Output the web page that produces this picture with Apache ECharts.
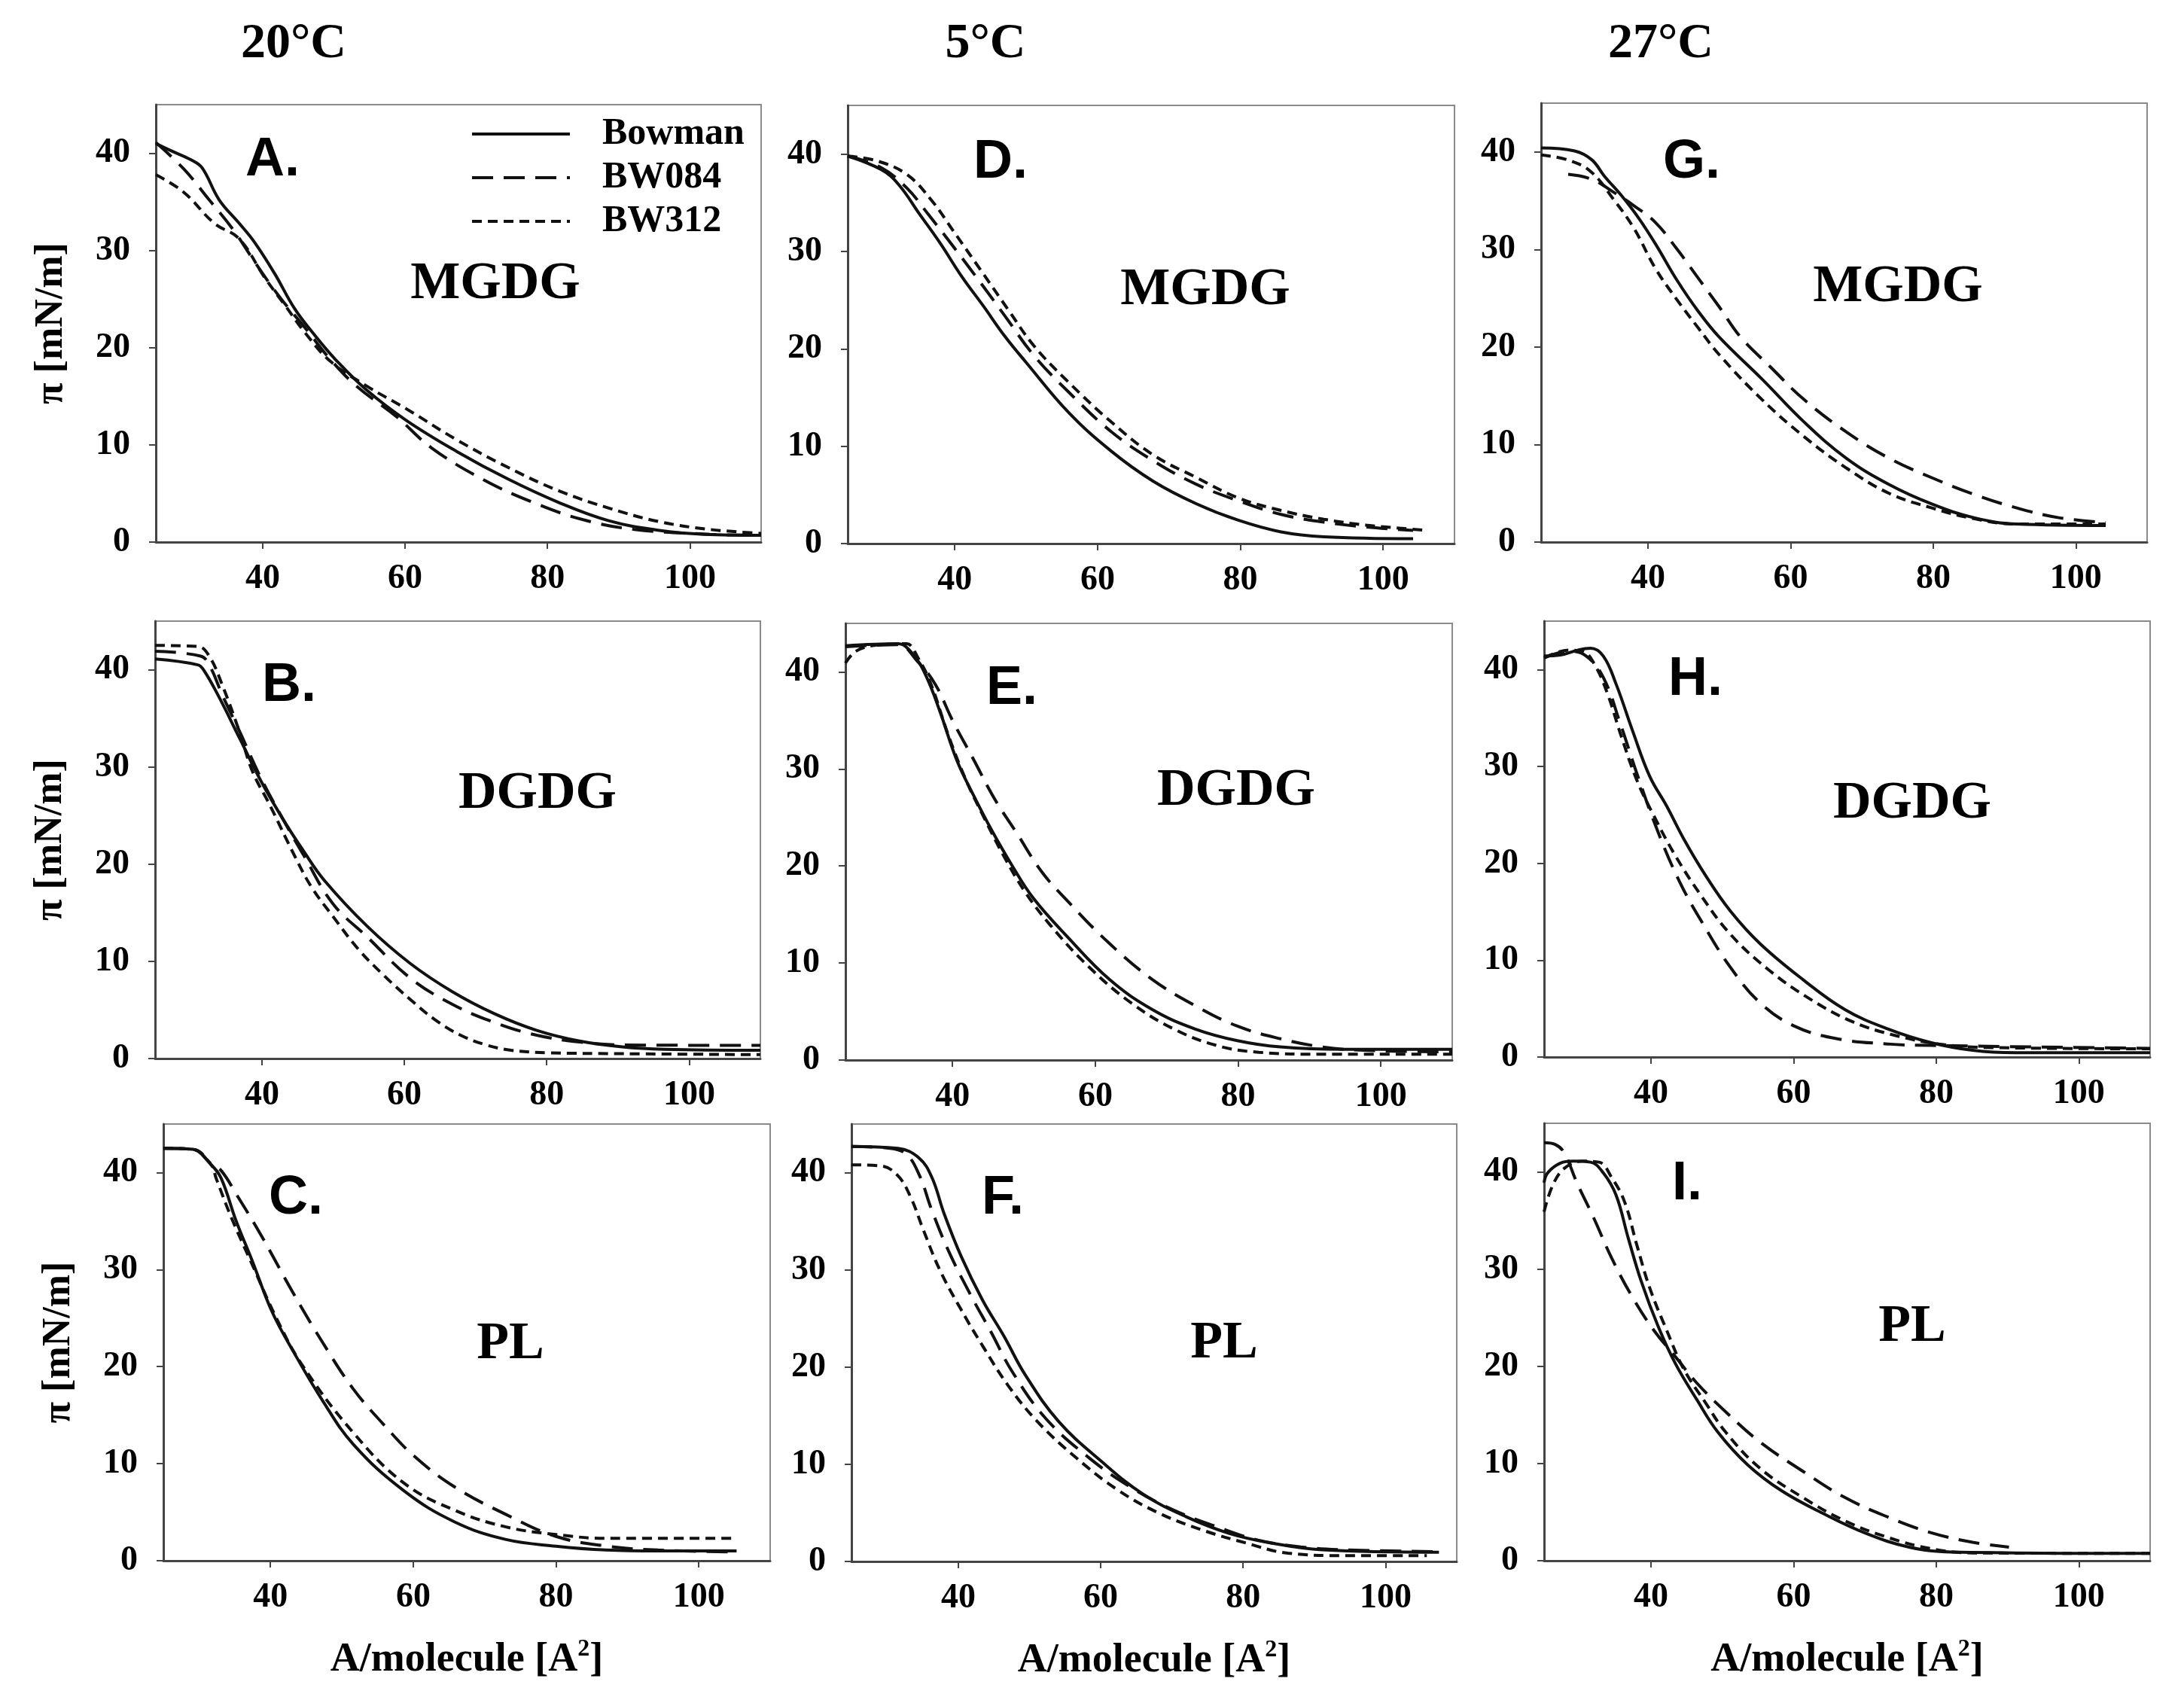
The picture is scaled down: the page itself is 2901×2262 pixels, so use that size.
<!DOCTYPE html>
<html>
<head>
<meta charset="utf-8">
<script src="https://cdn.jsdelivr.net/npm/echarts@6/dist/echarts.min.js"></script>
<style>
  html, body { margin: 0; padding: 0; background: #fff; }
  #chart { width: 2901px; height: 2262px; }
</style>
</head>
<body>
<div id="chart"></div>
<script>
var seriesNames = ['Bowman', 'BW084', 'BW312'];
var temps = ['20°C', '5°C', '27°C'];
var panelLetters = ['A.', 'B.', 'C.', 'D.', 'E.', 'F.', 'G.', 'H.', 'I.'];
var lipids = ['MGDG', 'DGDG', 'PL', 'MGDG', 'DGDG', 'PL', 'MGDG', 'DGDG', 'PL'];
var xTicks = [40, 60, 80, 100];
var yTicks = [0, 10, 20, 30, 40];

// 20°C
var aBowman = [[25,41.0],[27,40.3],[30,39.3],[31.5,38.5],[33.9,35.2],[36.7,32.8],[38.9,30.8],[41.7,27.6],[44.5,24.0],[47.4,21.2],[50.2,18.8],[54.5,15.7],[60.2,12.5],[67.3,9.3],[74.4,6.5],[81.5,4.1],[88.6,2.2],[95.7,1.2],[102,0.8],[110,0.7]];
var aBW084 = [[25,41.1],[28.9,38.4],[32.5,35.2],[36,32.0],[38.9,28.8],[42.4,25.2],[46,22.0],[49.5,18.8],[53.1,16.1],[58.8,12.9],[63.7,9.7],[70.8,6.5],[77.9,4.1],[85,2.3],[92.2,1.3],[102.8,0.8],[110,0.7]];
var aBW312 = [[25,37.8],[28.9,36.0],[33.2,32.8],[36.7,31.2],[40.3,27.2],[43.1,24.4],[46,21.5],[49.5,18.6],[54.5,16.1],[60.2,13.7],[67.3,10.5],[74.4,7.7],[81.5,5.3],[88.6,3.5],[95.7,2.1],[102.8,1.3],[110,0.9]];

var bBowman = [[25,41.1],[31,40.5],[31.8,40.0],[33.9,37.3],[36.9,32.9],[39.9,28.5],[42.9,24.7],[45.8,21.4],[48.8,18.3],[54.8,13.6],[60.8,9.8],[66.7,6.9],[72.7,4.6],[78.6,2.9],[84.6,1.8],[90.6,1.2],[96.5,0.95],[110,0.85]];
var bBW084 = [[25,41.9],[31.4,41.4],[32.6,40.5],[34.5,37.3],[36.9,33.6],[39.9,28.8],[42.9,24.7],[45.8,21.0],[50,15.9],[54.8,12.5],[60.8,8.3],[66.7,5.6],[72.7,3.7],[78.6,2.4],[84.6,1.7],[90.6,1.4],[110,1.35]];
var bBW312 = [[25,42.5],[31,42.4],[32.6,41.4],[34.5,38.3],[36.9,33.5],[38.7,29.5],[41.1,26.1],[44.7,20.7],[47,17.6],[50,14.6],[53.6,11.2],[57.2,8.5],[60.8,6.1],[64.3,4.0],[67.9,2.4],[71.5,1.4],[75,0.85],[80,0.6],[90.6,0.5],[110,0.4]];

var cBowman = [[25,42.5],[29.1,42.4],[31.7,40.8],[33.1,39.4],[35.2,35.0],[37.4,31.0],[40.2,25.7],[43.1,21.7],[47.3,16.5],[51.6,12.0],[58.7,7.2],[65.8,4.0],[72.9,2.2],[80,1.5],[87,1.1],[94.3,1.0],[105.3,1.0]];
var cBW084 = [[25,42.5],[29.1,42.4],[31.7,40.9],[33.1,40.2],[35.2,37.8],[38.8,33.4],[43.1,27.7],[47.3,22.5],[51.6,17.7],[55.9,14.0],[60.1,10.8],[65.8,7.6],[72.9,4.8],[80,2.5],[87.2,1.5],[94.3,1.1],[105.3,0.9]];
var cBW312 = [[25,42.5],[29.1,42.4],[31.7,40.8],[32.4,39.4],[34.5,35.4],[37.4,30.6],[40.9,24.9],[44.5,20.1],[51.6,13.2],[58.7,8.0],[65.8,5.2],[72.9,3.5],[80,2.7],[87.2,2.3],[105.3,2.3]];

// 5°C
var dBowman = [[25,39.8],[29.7,38.4],[32.1,36.9],[35.1,33.8],[38,30.8],[41,27.4],[44,24.4],[47,21.3],[50,18.6],[55.9,13.5],[61.9,9.5],[67.8,6.4],[73.8,4.1],[79.7,2.4],[85.7,1.2],[91.7,0.7],[104.2,0.5]];
var dBW084 = [[25,39.8],[29.7,38.6],[33.3,36.5],[36.3,33.8],[39.8,30.5],[44,26.4],[47,23.4],[51.1,19.3],[55.9,15.6],[61.9,11.5],[67.8,8.5],[73.8,6.1],[79.7,4.4],[85.7,3.0],[91.7,2.2],[97.6,1.7],[104.2,1.35]];
var dBW312 = [[25,39.8],[29.1,39.3],[33.3,37.9],[36.8,35.2],[39.8,32.1],[44,27.7],[47.5,24.0],[51.1,20.3],[55.9,16.6],[61.9,12.5],[67.8,9.1],[73.8,6.8],[79.7,4.7],[85.7,3.4],[91.7,2.5],[97.6,1.9],[106.3,1.35]];

var eBowman = [[25,42.7],[32.3,42.9],[34.6,41.7],[36.4,39.4],[38.2,36.0],[40.6,30.9],[43,27.2],[45.4,23.8],[48.3,20.1],[51.3,16.7],[56.1,12.7],[62,8.3],[68,5.2],[74,3.2],[79.9,2.0],[85.9,1.35],[94.8,1.1],[110,1.1]];
var eBW084 = [[25,42.6],[32.3,42.8],[35.2,41.0],[37.6,38.7],[40,35.0],[43,30.9],[45.9,26.9],[48.9,23.5],[52.5,19.4],[56.1,16.4],[62,12.0],[68,8.3],[74,5.6],[79.9,3.5],[85.9,2.2],[91.8,1.35],[97.8,1.0],[110,0.85]];
var eBW312 = [[25,40.9],[26.4,42.1],[28.8,42.7],[33.5,42.9],[35.2,41.4],[37,38.7],[39.4,33.5],[41.8,29.0],[44.2,25.3],[47.2,21.0],[50.1,17.4],[53.7,13.9],[59.1,9.6],[65,5.9],[71,3.2],[77,1.5],[82.9,0.8],[91.8,0.6],[110,0.6]];

var fBowman = [[25,42.7],[31.5,42.5],[34.5,41.5],[36.3,39.5],[38,35.8],[40.4,31.4],[43.4,26.9],[46.4,23.2],[49.4,19.2],[54.1,14.4],[60.1,10.3],[66,6.9],[72,4.6],[78,2.9],[83.9,1.9],[91.1,1.2],[107.5,0.95]];
var fBW084 = [[25,42.7],[30.4,42.5],[32.7,41.9],[34.5,39.8],[36.3,36.1],[38.6,32.0],[41.6,27.6],[44.6,23.6],[47.6,19.5],[52.3,14.7],[58.3,10.7],[64.3,7.6],[70.2,5.3],[76.2,3.6],[82.1,2.2],[88.1,1.5],[94.1,1.2],[107.5,1.0]];
var fBW312 = [[25,40.8],[29.1,40.7],[31.5,39.7],[33.3,37.5],[35.1,34.1],[37.4,30.0],[40.4,25.9],[43.4,22.2],[47,18.1],[51.1,14.4],[56.5,10.7],[62.5,7.3],[68.4,4.9],[74.4,3.2],[80.4,1.9],[86.3,0.85],[94.1,0.6],[105.8,0.6]];

// 27°C
var gBowman = [[25,40.4],[29.7,40.1],[32.1,39.2],[33.9,37.5],[36.3,35.5],[38.7,33.2],[41.1,30.5],[44.1,26.8],[47,23.7],[50,21.0],[56,16.7],[61.9,12.3],[67.8,8.6],[73.8,5.9],[79.8,3.9],[85.7,2.5],[91.7,1.85],[104.2,1.7]];
var gBW084 = [[28.8,37.7],[32.1,37.2],[35.1,35.9],[38,34.5],[41,32.8],[44,30.1],[47,27.1],[50,24.1],[53,21.0],[57.1,18.0],[61.9,14.6],[67.8,11.3],[73.8,8.6],[79.8,6.6],[85.7,4.9],[91.7,3.5],[97.6,2.5],[104.2,2.0]];
var gBW312 = [[25,39.7],[29.1,39.1],[32.1,37.9],[35.1,35.2],[38,32.2],[41,28.1],[44,24.9],[47,22.0],[50,19.2],[56,14.6],[61.9,10.8],[67.8,7.6],[73.8,5.0],[79.8,3.5],[85.7,2.4],[91.7,1.85],[104.2,1.85]];

var hBowman = [[25,41.4],[27.3,41.5],[29.7,42.0],[31.5,42.2],[33.3,41.4],[35.1,38.5],[37.4,33.7],[39.8,29.0],[42.2,25.9],[44.6,22.5],[47.6,18.8],[51.1,15.1],[55.3,11.7],[61.3,8.0],[67.2,4.9],[73.2,2.9],[79.2,1.5],[85.1,0.7],[91.1,0.45],[110,0.45]];
var hBW084 = [[25,41.2],[28.5,41.9],[30.9,41.4],[33.3,39.2],[35.7,34.4],[38,29.3],[41,23.2],[44,18.1],[47,14.1],[51.1,9.3],[55.3,5.6],[60.1,3.2],[66,1.9],[73.2,1.35],[79.2,1.2],[110,0.9]];
var hBW312 = [[25,41.2],[28.5,42.0],[30.4,41.9],[32.1,40.5],[33.9,37.5],[35.7,33.4],[38,28.6],[40.4,24.9],[43.4,20.8],[46.9,16.8],[51.1,12.7],[56.5,9.0],[62.5,5.9],[68.4,3.6],[74.4,2.2],[80.4,1.35],[86.3,1.0],[110,0.85]];

var iBowman = [[25,38.9],[25.5,39.9],[27.3,40.9],[29.1,41.1],[31.5,41.0],[33.3,39.9],[35.1,37.6],[36.8,33.2],[38.6,28.8],[41,24.1],[43.4,20.3],[46.4,16.6],[49.4,13.2],[53.5,9.9],[58.3,7.2],[64.3,4.8],[70.2,2.8],[76.2,1.4],[82.1,0.9],[110,0.75]];
var iBW084 = [[25,43.0],[26.6,42.8],[27.8,42.0],[29.6,38.9],[32,35.2],[34.5,31.1],[37.4,27.1],[40.4,23.7],[43.4,21.0],[46.4,18.3],[50.5,15.3],[55.3,12.2],[61.3,9.2],[67.2,6.5],[73.2,4.5],[79.2,2.9],[85.1,1.9],[90.2,1.4]];
var iBW312 = [[25,35.9],[26.2,38.6],[27.9,40.4],[30.4,41.1],[32.7,41.0],[34.5,39.4],[36.3,36.9],[38,32.5],[39.8,28.1],[42.2,23.7],[44.6,19.7],[47.6,16.3],[50.5,13.2],[55.3,9.5],[61.3,6.5],[67.2,4.1],[73.2,2.4],[79.2,1.25],[85.1,0.8],[110,0.75]];

var panels = [
  [aBowman, aBW084, aBW312], [bBowman, bBW084, bBW312], [cBowman, cBW084, cBW312],
  [dBowman, dBW084, dBW312], [eBowman, eBW084, eBW312], [fBowman, fBW084, fBW312],
  [gBowman, gBW084, gBW312], [hBowman, hBW084, hBW312], [iBowman, iBW084, iBW312]
];

// plot boxes in pixels: left, top, width, height
var boxes = [
  [207, 139, 804, 581], [206, 825, 804, 581], [217, 1493, 806, 580],
  [1126, 140, 806, 582], [1123, 828, 806, 580], [1131, 1493, 804, 581],
  [2047, 137, 805, 583], [2051, 825, 805, 579], [2051, 1492, 805, 581]
];
var letterPos = [[326,213],[348,911],[357,1592],[1293,216],[1310,915],[1304,1592],[2209,216],[2216,903],[2221,1573]];
var lipidPos = [[658,378],[714,1055],[678,1786],[1601,386],[1642,1051],[1626,1785],[2521,382],[2540,1068],[2540,1763]];
var tempPos = [[390,59],[1309,59],[2206,59]];

var serif = 'Liberation Serif';
var dashes = ['solid', [28, 14], [13, 8]];

var grids = [], xAxes = [], yAxes = [], series = [], graphics = [];

boxes.forEach(function (b, i) {
  grids.push({
    left: b[0], top: b[1], width: b[2], height: b[3],
    show: true, borderColor: '#8a8a8a', borderWidth: 2, containLabel: false
  });
  var bottomRow = (i % 3 === 2);
  var leftCol = (i < 3);
  xAxes.push({
    type: 'value', gridIndex: i, min: 25, max: 110,
    splitLine: { show: false },
    axisLine: { onZero: false, lineStyle: { color: '#444', width: 3 } },
    axisTick: { customValues: xTicks, length: 9, lineStyle: { color: '#444', width: 2 } },
    axisLabel: {
      customValues: xTicks, margin: 26, color: '#000',
      fontFamily: serif, fontWeight: 'bold', fontSize: 46
    },
    name: bottomRow ? 'A/molecule [A{sup|2}]' : '',
    nameLocation: 'middle', nameGap: 102,
    nameTextStyle: {
      color: '#000', fontFamily: serif, fontWeight: 'bold', fontSize: 54,
      rich: { sup: { fontFamily: serif, fontWeight: 'bold', fontSize: 32, verticalAlign: 'top', padding: [0, 0, 28, 0] } }
    }
  });
  yAxes.push({
    type: 'value', gridIndex: i, min: 0, max: 45,
    splitLine: { show: false },
    axisLine: { show: true, onZero: false, lineStyle: { color: '#444', width: 3 } },
    axisTick: { show: true, customValues: yTicks, length: 9, lineStyle: { color: '#444', width: 2 } },
    axisLabel: {
      customValues: yTicks, margin: 34, color: '#000',
      fontFamily: serif, fontWeight: 'bold', fontSize: 46
    },
    name: leftCol ? 'π [mN/m]' : '',
    nameLocation: 'middle', nameGap: 112, nameRotate: 90,
    nameTextStyle: { color: '#000', fontFamily: serif, fontWeight: 'bold', fontSize: 52 }
  });
  panels[i].forEach(function (d, k) {
    series.push({
      name: seriesNames[k], type: 'line', xAxisIndex: i, yAxisIndex: i,
      data: d, showSymbol: false, symbol: 'none', smooth: 0.4,
      lineStyle: { color: '#111', width: 4, type: dashes[k] },
      itemStyle: { color: '#111' }
    });
  });
  graphics.push({
    type: 'text', x: letterPos[i][0], y: letterPos[i][1],
    style: { text: panelLetters[i], fill: '#000', font: 'bold 72px "Liberation Sans", Arial, sans-serif', verticalAlign: 'middle' }
  });
  graphics.push({
    type: 'text', x: lipidPos[i][0], y: lipidPos[i][1],
    style: { text: lipids[i], fill: '#000', font: 'bold 70px "Liberation Serif", serif', align: 'center', verticalAlign: 'middle' }
  });
});

temps.forEach(function (t, j) {
  graphics.push({
    type: 'text', x: tempPos[j][0], y: tempPos[j][1],
    style: { text: t, fill: '#000', font: 'bold 66px "Liberation Serif", serif', align: 'center', verticalAlign: 'middle' }
  });
});

var option = {
  animation: false,
  backgroundColor: '#fff',
  grid: grids,
  xAxis: xAxes,
  yAxis: yAxes,
  legend: {
    data: seriesNames,
    orient: 'vertical',
    left: 620, top: 148,
    itemWidth: 130, itemHeight: 20, itemGap: 8,
    itemStyle: { opacity: 0 },
    lineStyle: { width: 4 },
    textStyle: {
      color: '#000', fontFamily: serif, fontWeight: 'bold', fontSize: 50,
      lineHeight: 50, padding: [0, 0, 0, 38]
    }
  },
  graphic: graphics,
  series: series
};

echarts.init(document.getElementById('chart')).setOption(option);
</script>
</body>
</html>
